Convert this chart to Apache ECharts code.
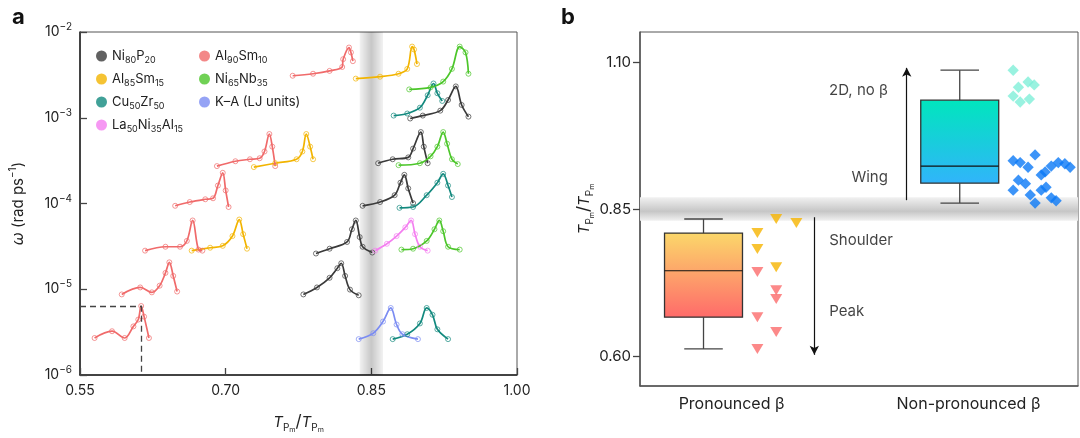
<!DOCTYPE html>
<html>
<head>
<meta charset="utf-8">
<script src="https://cdn.jsdelivr.net/npm/echarts@6/dist/echarts.min.js"></script>
<style>
  html, body { margin: 0; padding: 0; background: #fff; }
  #main { width: 1080px; height: 438px; }
</style>
</head>
<body>
<div id="main"></div>
<script>
// panel a: [T/Tm, omega]
const ni80p20_1 = [[0.890, 9.8e-4], [0.903, 1.06e-3], [0.921, 1.21e-3], [0.929, 1.61e-3], [0.937, 2.32e-3], [0.943, 1.41e-3], [0.950, 1.03e-3]];
const ni80p20_2 = [[0.857, 2.95e-4], [0.872, 3.28e-4], [0.888, 3.45e-4], [0.893, 4.37e-4], [0.901, 6.81e-4], [0.904, 4.6e-4], [0.908, 2.95e-4]];
const ni80p20_3 = [[0.841, 9.4e-5], [0.859, 1.04e-4], [0.874, 1.25e-4], [0.880, 1.75e-4], [0.884, 2.16e-4], [0.888, 1.5e-4], [0.893, 1.01e-4]];
const ni80p20_4 = [[0.793, 2.61e-5], [0.807, 2.97e-5], [0.825, 3.56e-5], [0.830, 5.01e-5], [0.834, 6.34e-5], [0.838, 4.06e-5], [0.841, 3.13e-5], [0.851, 2.68e-5]];
const ni80p20_5 = [[0.780, 8.7e-6], [0.794, 1.05e-5], [0.807, 1.36e-5], [0.815, 1.76e-5], [0.819, 2.01e-5], [0.823, 1.43e-5], [0.828, 9.9e-6], [0.837, 8.5e-6]];

const al85sm15_1 = [[0.834, 2.86e-3], [0.859, 3.01e-3], [0.878, 3.26e-3], [0.887, 3.71e-3], [0.892, 6.76e-3], [0.894, 6.25e-3], [0.897, 4.23e-3]];
const al85sm15_2 = [[0.729, 2.66e-4], [0.751, 2.95e-4], [0.773, 3.28e-4], [0.779, 4.04e-4], [0.783, 6.46e-4], [0.787, 4.6e-4], [0.790, 3.28e-4]];
const al85sm15_3 = [[0.665, 2.82e-5], [0.684, 3.05e-5], [0.697, 3.21e-5], [0.707, 4.17e-5], [0.714, 6.5e-5], [0.718, 4.39e-5], [0.722, 2.97e-5]];

const cu50zr50_1 = [[0.873, 1.06e-3], [0.887, 1.12e-3], [0.900, 1.31e-3], [0.908, 1.83e-3], [0.914, 2.51e-3], [0.918, 1.93e-3], [0.923, 1.57e-3]];
const cu50zr50_2 = [[0.879, 8.9e-5], [0.893, 9.1e-5], [0.907, 1.25e-4], [0.918, 1.75e-4], [0.924, 2.22e-4], [0.929, 1.62e-4], [0.933, 1.19e-4]];
const cu50zr50_3 = [[0.872, 2.62e-6], [0.887, 2.99e-6], [0.900, 3.99e-6], [0.907, 6.05e-6], [0.913, 5.04e-6], [0.918, 3.41e-6], [0.929, 2.62e-6]];

const la50ni35al15_1 = [[0.854, 2.82e-5], [0.866, 3.39e-5], [0.876, 4.17e-5], [0.885, 5.27e-5], [0.891, 6.34e-5], [0.895, 4.39e-5], [0.900, 3.13e-5], [0.908, 2.82e-5]];

const al90sm10_1 = [[0.769, 3.09e-3], [0.790, 3.26e-3], [0.807, 3.52e-3], [0.820, 3.91e-3], [0.821, 4.82e-3], [0.827, 6.59e-3], [0.829, 5.78e-3], [0.831, 4.57e-3]];
const al90sm10_2 = [[0.691, 2.73e-4], [0.710, 3.11e-4], [0.725, 3.28e-4], [0.735, 3.37e-4], [0.740, 4.04e-4], [0.745, 6.46e-4], [0.748, 4.6e-4], [0.751, 2.73e-4]];
const al90sm10_3 = [[0.648, 9.4e-5], [0.663, 1.04e-4], [0.679, 1.12e-4], [0.687, 1.15e-4], [0.692, 1.62e-4], [0.697, 2.28e-4], [0.700, 1.42e-4], [0.703, 9.1e-5]];
const al90sm10_4 = [[0.617, 2.82e-5], [0.638, 3.13e-5], [0.653, 3.13e-5], [0.660, 3.66e-5], [0.666, 6.34e-5], [0.672, 2.9e-5], [0.676, 2.82e-5]];
const al90sm10_5 = [[0.593, 8.7e-6], [0.612, 1.05e-5], [0.624, 9.2e-6], [0.632, 1.1e-5], [0.638, 1.55e-5], [0.642, 2.06e-5], [0.646, 1.43e-5], [0.650, 9.4e-6]];
const al90sm10_6 = [[0.565, 2.7e-6], [0.583, 3.24e-6], [0.596, 2.7e-6], [0.605, 3.69e-6], [0.610, 4.43e-6], [0.613, 6.38e-6], [0.616, 4.79e-6], [0.621, 2.7e-6]];

const ni65nb35_1 = [[0.889, 2.14e-3], [0.911, 2.26e-3], [0.924, 2.64e-3], [0.933, 3.71e-3], [0.941, 6.76e-3], [0.947, 5.78e-3], [0.950, 3.26e-3]];
const ni65nb35_2 = [[0.878, 2.8e-4], [0.900, 2.95e-4], [0.911, 3.55e-4], [0.918, 4.6e-4], [0.924, 6.81e-4], [0.928, 4.98e-4], [0.933, 3.28e-4], [0.939, 2.88e-4]];
const ni65nb35_3 = [[0.881, 2.9e-5], [0.893, 2.97e-5], [0.907, 3.66e-5], [0.915, 5.01e-5], [0.920, 6.34e-5], [0.924, 4.75e-5], [0.929, 3.13e-5], [0.941, 2.9e-5]];

const ka_1 = [[0.837, 2.62e-6], [0.852, 3.07e-6], [0.862, 4.2e-6], [0.870, 6.05e-6], [0.876, 3.88e-6], [0.882, 2.99e-6], [0.898, 2.62e-6]];

const xTicksA = [0.55, 0.70, 0.85, 1.00];
const bandA = [0.838, 0.862];
const guidePoint = [0.613, 6.4e-6];

// panel b
const boxNames = ['Pronounced β', 'Non-pronounced β'];
const boxCenters = [0.145, 0.73];
const boxLabelPos = [0.209, 0.75];
// [min, q1, median, q3, max]
const boxStats = [[0.612, 0.666, 0.745, 0.809, 0.833], [0.860, 0.894, 0.923, 1.035, 1.086]];
const shoulderTri = [[0.311, 0.833], [0.357, 0.826], [0.268, 0.809], [0.268, 0.782], [0.311, 0.751]];
const peakTri = [[0.268, 0.743], [0.311, 0.712], [0.311, 0.697], [0.268, 0.666], [0.311, 0.641], [0.268, 0.612]];
const noBetaDia = [[0.852, 1.086], [0.864, 1.057], [0.886, 1.066], [0.900, 1.061], [0.852, 1.042], [0.868, 1.032], [0.889, 1.037]];
const wingDia = [[0.902, 0.942], [0.852, 0.932], [0.868, 0.929], [0.886, 0.921], [0.939, 0.923], [0.955, 0.929], [0.970, 0.927], [0.982, 0.921],
  [0.916, 0.908], [0.925, 0.913], [0.864, 0.899], [0.880, 0.893], [0.852, 0.882], [0.916, 0.882], [0.927, 0.887], [0.891, 0.874],
  [0.902, 0.860], [0.939, 0.869], [0.950, 0.864]];
const yTicksB = [0.60, 0.85, 1.10];
const bandB = [0.83, 0.87];

const alloys = [
  { name: 'Ni80P20', label: 'Ni{s|80}P{s|20}', color: '#3a3a3a', curves: [ni80p20_1, ni80p20_2, ni80p20_3, ni80p20_4, ni80p20_5] },
  { name: 'Al85Sm15', label: 'Al{s|85}Sm{s|15}', color: '#f2b400', curves: [al85sm15_1, al85sm15_2, al85sm15_3] },
  { name: 'Cu50Zr50', label: 'Cu{s|50}Zr{s|50}', color: '#12897e', curves: [cu50zr50_1, cu50zr50_2, cu50zr50_3] },
  { name: 'La50Ni35Al15', label: 'La{s|50}Ni{s|35}Al{s|15}', color: '#f47ef0', curves: [la50ni35al15_1] },
  { name: 'Al90Sm10', label: 'Al{s|90}Sm{s|10}', color: '#f06a6a', curves: [al90sm10_1, al90sm10_2, al90sm10_3, al90sm10_4, al90sm10_5, al90sm10_6] },
  { name: 'Ni65Nb35', label: 'Ni{s|65}Nb{s|35}', color: '#4cc62a', curves: [ni65nb35_1, ni65nb35_2, ni65nb35_3] },
  { name: 'K–A (LJ units)', label: 'K–A (LJ units)', color: '#7b8cf2', curves: [ka_1] }
];
const legendLabel = {};
alloys.forEach(a => { legendLabel[a.name] = a.label; });

const FONT = 'Inter, "Noto Sans", sans-serif';
const series = [];

alloys.forEach(a => {
  // legend entry only
  series.push({ name: a.name, type: 'scatter', xAxisIndex: 0, yAxisIndex: 0, data: [], itemStyle: { color: a.color } });
  a.curves.forEach((c, i) => {
    series.push({
      name: a.name + '_' + i,
      type: 'line', xAxisIndex: 0, yAxisIndex: 0,
      data: c, smooth: 0.35,
      symbol: 'circle', symbolSize: 5,
      lineStyle: { color: a.color, width: 1.7 },
      itemStyle: { color: 'rgba(255,255,255,0)', borderColor: a.color, borderWidth: 1, opacity: 0.7 },
      z: 3
    });
  });
});

// grey band + dashed guide in panel a
series.push({
  type: 'line', xAxisIndex: 0, yAxisIndex: 0, data: [], silent: true,
  markArea: {
    silent: true,
    itemStyle: {
      color: new echarts.graphic.LinearGradient(0, 0, 1, 0, [
        { offset: 0, color: 'rgba(0,0,0,0.05)' },
        { offset: 0.5, color: 'rgba(0,0,0,0.22)' },
        { offset: 1, color: 'rgba(0,0,0,0.05)' }
      ])
    },
    data: [[{ xAxis: bandA[0] }, { xAxis: bandA[1] }]]
  },
  markLine: {
    silent: true, symbol: 'none', label: { show: false },
    lineStyle: { color: '#444', type: [6, 4], width: 1.3 },
    data: [
      [{ coord: [0.55, guidePoint[1]] }, { coord: guidePoint }],
      [{ coord: guidePoint }, { coord: [guidePoint[0], 1e-6] }]
    ]
  },
  z: 4
});

// panel b
const boxFills = [
  new echarts.graphic.LinearGradient(0, 0, 0, 1, [{ offset: 0, color: '#fbd86a' }, { offset: 1, color: '#ff6a6a' }]),
  new echarts.graphic.LinearGradient(0, 0, 0, 1, [{ offset: 0, color: '#00e6bd' }, { offset: 1, color: '#31b4fb' }])
];
const boxHalf = 0.089, capHalf = 0.044;

series.push({
  type: 'line', xAxisIndex: 1, yAxisIndex: 1, data: [], silent: true,
  markArea: {
    silent: true,
    itemStyle: {
      color: new echarts.graphic.LinearGradient(0, 0, 0, 1, [
        { offset: 0, color: '#f1f1f1' },
        { offset: 0.6, color: '#c6c6c6' },
        { offset: 1, color: '#f1f1f1' }
      ])
    },
    data: [[{ yAxis: bandB[0] }, { yAxis: bandB[1] }]]
  },
  markLine: {
    silent: true, symbol: ['none', 'arrow'], symbolSize: [7, 9], label: { show: false },
    lineStyle: { color: '#111', type: 'solid', width: 1.2 },
    data: [
      [{ coord: [0.398, 0.836] }, { coord: [0.398, 0.602] }],
      [{ coord: [0.609, 0.865] }, { coord: [0.609, 1.090] }]
    ]
  },
  z: 1
});

series.push({
  type: 'custom', xAxisIndex: 1, yAxisIndex: 1,
  data: boxStats.map((s, i) => [boxCenters[i]].concat(s)),
  renderItem: function (params, api) {
    const i = params.dataIndex;
    const x = api.value(0);
    const lo = api.value(1), q1 = api.value(2), med = api.value(3), q3 = api.value(4), hi = api.value(5);
    const p = (a, b) => api.coord([a, b]);
    const tl = p(x - boxHalf, q3), br = p(x + boxHalf, q1);
    const seg = (a, b) => ({ type: 'line', shape: { x1: a[0], y1: a[1], x2: b[0], y2: b[1] }, style: { stroke: '#444', lineWidth: 1.3 } });
    return {
      type: 'group',
      children: [
        seg(p(x, hi), p(x, q3)),
        seg(p(x, q1), p(x, lo)),
        seg(p(x - capHalf, hi), p(x + capHalf, hi)),
        seg(p(x - capHalf, lo), p(x + capHalf, lo)),
        { type: 'rect', shape: { x: tl[0], y: tl[1], width: br[0] - tl[0], height: br[1] - tl[1] },
          style: { fill: boxFills[i], stroke: '#333', lineWidth: 1.3 } },
        { type: 'line', shape: { x1: tl[0], y1: p(x, med)[1], x2: br[0], y2: p(x, med)[1] }, style: { stroke: '#111', lineWidth: 1.2 } }
      ]
    };
  },
  z: 3
});

series.push({ type: 'scatter', xAxisIndex: 1, yAxisIndex: 1, data: shoulderTri, symbol: 'triangle', symbolRotate: 180, symbolSize: [12, 10], itemStyle: { color: '#f6b400' }, z: 4 });
series.push({ type: 'scatter', xAxisIndex: 1, yAxisIndex: 1, data: peakTri, symbol: 'triangle', symbolRotate: 180, symbolSize: [12, 10], itemStyle: { color: '#fb6c6c' }, z: 4 });
series.push({ type: 'scatter', xAxisIndex: 1, yAxisIndex: 1, data: noBetaDia, symbol: 'rect', symbolRotate: 45, symbolSize: 8, itemStyle: { color: '#80efd8' }, z: 4 });
series.push({ type: 'scatter', xAxisIndex: 1, yAxisIndex: 1, data: wingDia, symbol: 'rect', symbolRotate: 45, symbolSize: 8, itemStyle: { color: '#0b79f6' }, z: 4 });

series.push({
  type: 'scatter', xAxisIndex: 1, yAxisIndex: 1, symbolSize: 0, silent: true,
  label: { show: true, formatter: '{b}', color: '#111', fontSize: 15, fontFamily: FONT, distance: 0 },
  data: [
    { name: 'Shoulder', value: [0.432, 0.797], label: { position: 'right' } },
    { name: 'Peak', value: [0.432, 0.675], label: { position: 'right' } },
    { name: 'Wing', value: [0.566, 0.903], label: { position: 'left' } },
    { name: '2D, no β', value: [0.566, 1.051], label: { position: 'left' } }
  ],
  z: 5
});

const subRich = {
  s: { fontSize: 9, lineHeight: 10, verticalAlign: 'bottom' }
};
const ratioRich = {
  it: { fontStyle: 'italic', fontSize: 15, lineHeight: 22, fontFamily: FONT },
  s1: { fontSize: 10, lineHeight: 14, verticalAlign: 'bottom', fontFamily: FONT },
  s2: { fontSize: 7, lineHeight: 8, verticalAlign: 'bottom', fontFamily: FONT },
  n: { fontSize: 17, lineHeight: 22, fontFamily: FONT }
};
const ratioName = '{it|T}{s1|P}{s2|m}{n|/}{it|T}{s1|P}{s2|m}';

const legendBase = {
  orient: 'vertical', itemWidth: 11, itemHeight: 11, itemGap: 5, icon: 'circle',
  formatter: n => legendLabel[n],
  textStyle: { fontSize: 13, lineHeight: 18, color: '#222', fontFamily: FONT, rich: subRich }
};

const chart = echarts.init(document.getElementById('main'));
chart.setOption({
  animation: false,
  textStyle: { fontFamily: FONT },
  legend: [
    Object.assign({}, legendBase, { left: 91, top: 42, data: ['Ni80P20', 'Al85Sm15', 'Cu50Zr50', 'La50Ni35Al15'] }),
    Object.assign({}, legendBase, { left: 194, top: 42, data: ['Al90Sm10', 'Ni65Nb35', 'K–A (LJ units)'] })
  ],
  graphic: [
    { type: 'text', left: 12, top: 6, style: { text: 'a', fontSize: 22, fontWeight: 'bold', fill: '#111', fontFamily: FONT } },
    { type: 'text', left: 561, top: 6, style: { text: 'b', fontSize: 22, fontWeight: 'bold', fill: '#111', fontFamily: FONT } }
  ],
  grid: [
    { left: 80, top: 32, width: 437, height: 353, show: true, borderColor: '#555', borderWidth: 1 },
    { left: 640, top: 32, width: 438, height: 354, show: true, borderColor: '#555', borderWidth: 1 }
  ],
  xAxis: [
    {
      type: 'value', gridIndex: 0, min: 0.55, max: 1.0,
      name: ratioName, nameLocation: 'middle', nameGap: 36,
      nameTextStyle: { color: '#222', rich: ratioRich },
      axisLine: { lineStyle: { color: '#222', width: 1.5 } },
      axisTick: { inside: true, length: 7, customValues: xTicksA, lineStyle: { color: '#444', width: 1.3 } },
      axisLabel: { customValues: xTicksA, formatter: v => v.toFixed(2), fontSize: 14, color: '#222', margin: 9 },
      splitLine: { show: false }
    },
    {
      type: 'value', gridIndex: 1, min: 0, max: 1,
      axisLine: { lineStyle: { color: '#555', width: 1.5 } },
      axisTick: { show: false },
      axisLabel: {
        customValues: boxLabelPos, fontSize: 16, color: '#222', margin: 10,
        formatter: v => boxNames[boxLabelPos.indexOf(v)]
      },
      splitLine: { show: false }
    }
  ],
  yAxis: [
    {
      type: 'log', gridIndex: 0, min: 1e-6, max: 1e-2, logBase: 10,
      name: '{i|ω} (rad ps{sup|−1})', nameLocation: 'middle', nameGap: 52, nameRotate: 90,
      nameTextStyle: {
        fontSize: 15, color: '#222', lineHeight: 20,
        rich: { i: { fontStyle: 'italic', fontSize: 16, lineHeight: 20 }, sup: { fontSize: 10, lineHeight: 10, verticalAlign: 'top' } }
      },
      axisLine: { lineStyle: { color: '#222', width: 1.5 } },
      axisTick: { inside: true, length: 7, lineStyle: { color: '#444', width: 1.3 } },
      minorTick: { show: false },
      axisLabel: {
        fontSize: 14, color: '#222', lineHeight: 20, margin: 8,
        formatter: v => '10{sup|−' + Math.round(-Math.log10(v)) + '}',
        rich: { sup: { fontSize: 10, lineHeight: 10, verticalAlign: 'top' } }
      },
      splitLine: { show: false }
    },
    {
      type: 'value', gridIndex: 1, min: 0.549, max: 1.151,
      name: ratioName, nameLocation: 'middle', nameGap: 42, nameRotate: 90,
      nameTextStyle: { color: '#222', rich: ratioRich },
      axisLine: { lineStyle: { color: '#555', width: 1.5 } },
      axisTick: { inside: false, length: 7, customValues: yTicksB, lineStyle: { color: '#444', width: 1.3 } },
      axisLabel: { customValues: yTicksB, formatter: v => v.toFixed(2), fontSize: 15, color: '#222', margin: 9 },
      splitLine: { show: false }
    }
  ],
  series: series
});
</script>
</body>
</html>
